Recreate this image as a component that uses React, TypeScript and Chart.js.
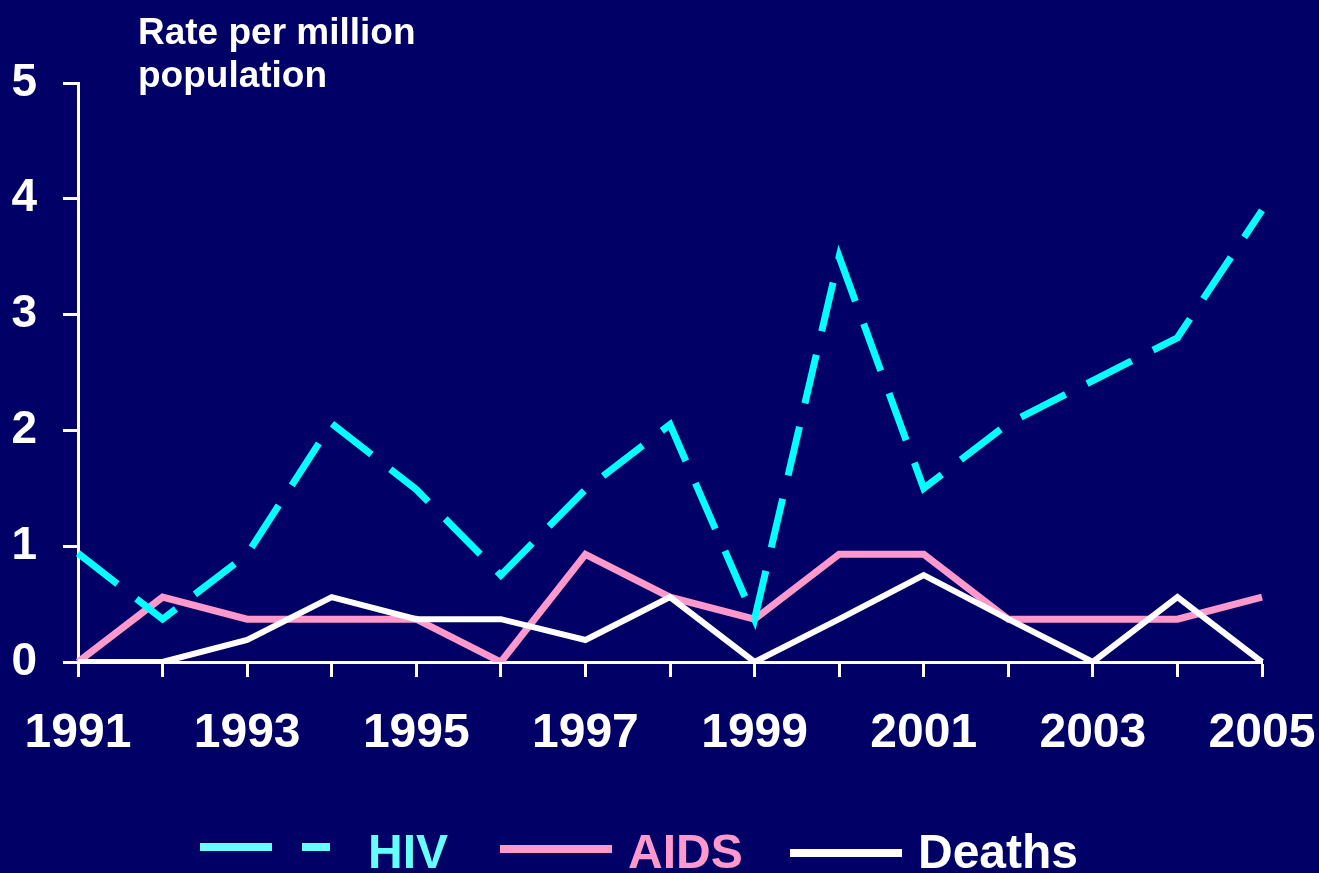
import React, { useEffect, useRef } from "react";
import { Chart, registerables } from "chart.js";

Chart.register(...registerables);

const years = ["1991", "1992", "1993", "1994", "1995", "1996", "1997", "1998", "1999", "2000", "2001", "2002", "2003", "2004", "2005"];
const hivRates = [0.94, 0.37, 0.93, 2.06, 1.49, 0.75, 1.49, 2.05, 0.37, 3.5, 1.5, 2.06, 2.43, 2.8, 3.9];
const aidsRates = [0, 0.56, 0.37, 0.37, 0.37, 0, 0.93, 0.56, 0.37, 0.93, 0.93, 0.37, 0.37, 0.37, 0.56];
const deathRates = [0, 0, 0.19, 0.56, 0.37, 0.37, 0.19, 0.56, 0, 0.37, 0.75, 0.37, 0, 0.56, 0];
const seriesNames = ["HIV", "AIDS", "Deaths"];
const yTitleLines = ["Rate per million", "population"];

const BG = "#000066";
const FONT = "'Liberation Sans', Arial, Helvetica, sans-serif";

const bgPlugin = {
  id: "bgFill",
  beforeDraw(chart: any) {
    const { ctx, width, height } = chart;
    ctx.save();
    ctx.fillStyle = BG;
    ctx.fillRect(0, 0, width, height);
    ctx.restore();
  },
};

const extrasPlugin = {
  id: "extras",
  afterDraw(chart: any) {
    const { ctx } = chart;
    ctx.save();
    // axis title
    ctx.fillStyle = "#ffffff";
    ctx.font = `bold 37px ${FONT}`;
    ctx.textAlign = "left";
    ctx.textBaseline = "alphabetic";
    ctx.fillText(yTitleLines[0], 138, 44);
    ctx.fillText(yTitleLines[1], 138, 87);

    // legend
    const items = [
      { name: seriesNames[0], color: "#66ffff", dash: [72, 30], x1: 200, x2: 330, tx: 368, ly: 847 },
      { name: seriesNames[1], color: "#ff99cc", dash: [], x1: 500, x2: 612, tx: 628, ly: 849 },
      { name: seriesNames[2], color: "#ffffff", dash: [], x1: 790, x2: 902, tx: 918, ly: 853 },
    ];
    ctx.font = `bold 48px ${FONT}`;
    ctx.textBaseline = "alphabetic";
    for (const it of items) {
      ctx.strokeStyle = it.color;
      ctx.lineWidth = 8;
      ctx.lineCap = "butt";
      ctx.setLineDash(it.dash);
      ctx.beginPath();
      ctx.moveTo(it.x1, it.ly);
      ctx.lineTo(it.x2, it.ly);
      ctx.stroke();
      ctx.setLineDash([]);
      ctx.fillStyle = it.color;
      ctx.fillText(it.name, it.tx, 868);
    }
    ctx.restore();
  },
};

export default function App() {
  const canvasRef = useRef<HTMLCanvasElement | null>(null);

  useEffect(() => {
    document.body.style.margin = "0";
    document.body.style.background = BG;
    const canvas = canvasRef.current;
    if (!canvas) return;
    const chart = new Chart(canvas, {
      type: "line",
      data: {
        labels: years,
        datasets: [
          {
            label: seriesNames[0],
            data: hivRates,
            borderColor: "#00ffff",
            borderWidth: 7,
            borderDash: [50, 24],
            pointRadius: 0,
            tension: 0,
            fill: false,
            order: 0,
          },
          {
            label: seriesNames[1],
            data: aidsRates,
            borderColor: "#ff99cc",
            borderWidth: 7,
            pointRadius: 0,
            tension: 0,
            fill: false,
            order: 2,
          },
          {
            label: seriesNames[2],
            data: deathRates,
            borderColor: "#ffffff",
            borderWidth: 6,
            pointRadius: 0,
            tension: 0,
            fill: false,
            order: 1,
          },
        ],
      },
      options: {
        responsive: true,
        maintainAspectRatio: false,
        animation: false,
        layout: { padding: { left: 0, right: 57, top: 83, bottom: 111 } },
        plugins: {
          legend: { display: false },
          tooltip: { enabled: false },
          title: { display: false },
        },
        scales: {
          x: {
            type: "category",
            offset: false,
            afterFit: (scale: any) => {
              scale.height = 100;
              scale.paddingLeft = 0;
              scale.paddingRight = 0;
            },
            grid: {
              drawOnChartArea: false,
              drawTicks: true,
              tickLength: 15,
              tickColor: "#ffffff",
              tickWidth: 3,
            },
            border: { display: true, color: "#ffffff", width: 3 },
            ticks: {
              color: "#ffffff",
              autoSkip: false,
              maxRotation: 0,
              minRotation: 0,
              padding: 28,
              font: { family: FONT, size: 48, weight: "bold" },
              callback: (_v: any, i: number) => (i % 2 === 0 ? years[i] : ""),
            },
          },
          y: {
            min: 0,
            max: 5,
            afterFit: (scale: any) => {
              scale.width = 78;
              scale.paddingTop = 0;
              scale.paddingBottom = 0;
            },
            grid: {
              drawOnChartArea: false,
              drawTicks: true,
              tickLength: 15,
              tickColor: "#ffffff",
              tickWidth: 3,
            },
            border: { display: true, color: "#ffffff", width: 3 },
            ticks: {
              color: "#ffffff",
              stepSize: 1,
              padding: 26,
              font: { family: FONT, size: 46, weight: "bold" },
            },
          },
        },
      },
      plugins: [bgPlugin, extrasPlugin],
    });
    return () => chart.destroy();
  }, []);

  return (
    <div style={{ position: "fixed", left: 0, top: 0, width: 1319, height: 873, background: BG }}>
      <canvas ref={canvasRef} />
    </div>
  );
}
